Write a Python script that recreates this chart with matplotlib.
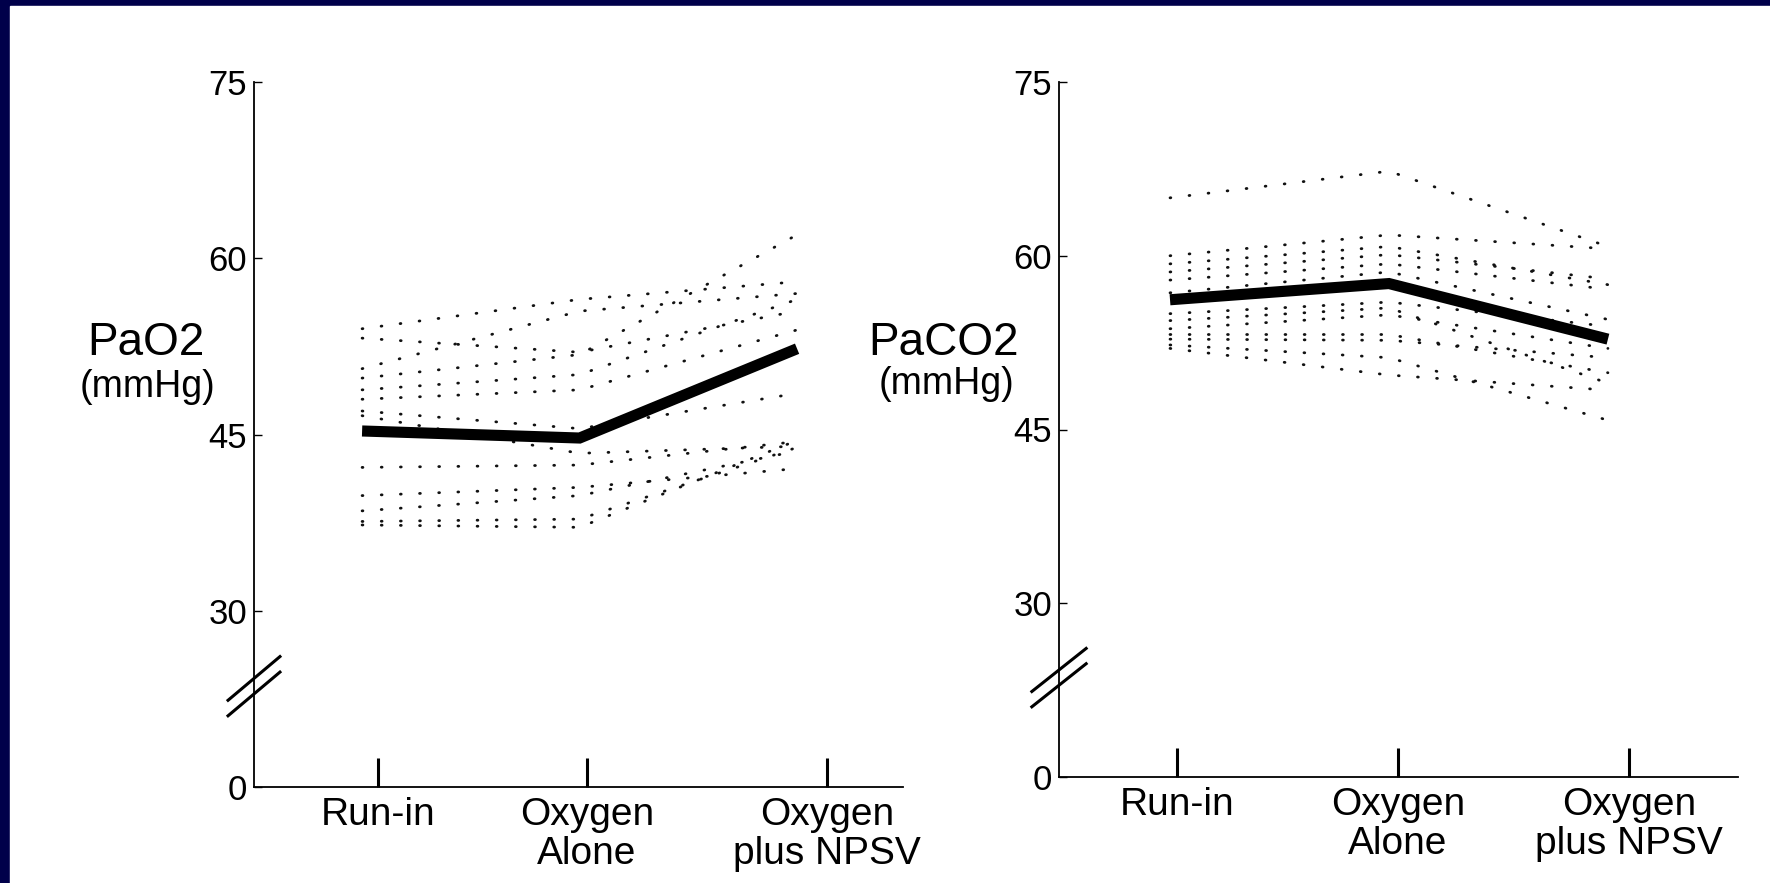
import matplotlib.pyplot as plt
from matplotlib.patches import Rectangle

plt.rcParams['font.family'] = ['Liberation Sans', 'DejaVu Sans']

# phases on the x axis
phases = ['Run-in', 'Oxygen\nAlone', 'Oxygen\nplus NPSV']
# the axis is broken below 30: the "0" tick sits where 15 would be
y_ticks = [15, 30, 45, 60, 75]
y_tick_labels = ['0', '30', '45', '60', '75']

# PaO2 (mmHg), one row per patient: run-in, oxygen alone, oxygen plus NPSV
pao2_patients = [
    [54.0, 56.5, 58.0],
    [53.2, 52.0, 55.5],
    [50.6, 55.5, 57.0],
    [49.8, 51.8, 62.0],
    [48.8, 50.1, 56.5],
    [48.0, 48.8, 53.9],
    [47.0, 45.5, 48.5],
    [46.6, 43.4, 44.0],
    [42.2, 42.4, 44.4],
    [39.8, 40.5, 42.1],
    [38.5, 39.8, 43.6],
    [37.6, 37.8, 43.9],
    [37.3, 37.1, 44.5],
]
pao2_mean = [45.3, 44.7, 52.3]

# PaCO2 (mmHg), one row per patient
paco2_patients = [
    [65.0, 67.3, 60.8],
    [60.0, 61.8, 60.6],
    [59.3, 60.8, 57.5],
    [58.6, 60.1, 58.0],
    [57.9, 59.3, 57.1],
    [56.8, 58.6, 54.5],
    [55.0, 56.0, 53.9],
    [54.4, 55.5, 49.0],
    [53.7, 54.9, 52.0],
    [53.2, 53.2, 49.9],
    [52.8, 52.7, 51.2],
    [52.3, 51.2, 45.8],
    [52.0, 49.7, 48.4],
]
paco2_mean = [56.2, 57.6, 52.8]

W, H = 1770, 883
navy = '#00004a'

fig = plt.figure(figsize=(W / 100, H / 100), dpi=100, facecolor=navy)
fig.patches.append(Rectangle((10 / W, 0), 1 - 10 / W, 1 - 6 / H,
                             transform=fig.transFigure, color='white', zorder=-5))

x_pos = [0, 1, 2]


def panel(rect, xlim, tick_pos, patients, mean, name, name_xy, unit_xy):
    ax = fig.add_axes(rect)
    ax.set_facecolor('none')
    for vals in patients:
        ax.plot(x_pos, vals, color='#111111', lw=2.0,
                linestyle=(0, (0.3, 6.6)), dash_capstyle='round')
    ax.plot(x_pos, mean, color='black', lw=8,
            solid_capstyle='butt', solid_joinstyle='miter', zorder=3)

    ax.set_xlim(*xlim)
    ax.set_ylim(15, 75)
    ax.set_yticks(y_ticks)
    ax.set_yticklabels(y_tick_labels)
    ax.set_xticks(tick_pos)
    ax.set_xticklabels(phases, linespacing=1.1)
    ax.tick_params(axis='y', direction='in', length=6, width=1,
                   pad=5, labelsize=25)
    ax.tick_params(axis='x', direction='in', length=21, width=2.2,
                   pad=7, labelsize=28)
    for s in ['top', 'right']:
        ax.spines[s].set_visible(False)
    for s in ['left', 'bottom']:
        ax.spines[s].set_linewidth(1.3)

    # break marks on the y axis
    for off in (-0.011, 0.011):
        ax.plot([-0.04, 0.04], [0.112 + off, 0.174 + off], color='black',
                lw=2.2, transform=ax.transAxes, clip_on=False)

    fig.text(name_xy[0] / W, 1 - name_xy[1] / H, name,
             ha='center', va='baseline', fontsize=33)
    fig.text(unit_xy[0] / W, 1 - unit_xy[1] / H, '(mmHg)',
             ha='center', va='baseline', fontsize=27)
    return ax


panel([254 / W, 1 - 787 / H, (903 - 254) / W, (787 - 82) / H],
      (-0.497, 2.487), [0.074, 1.034, 2.138],
      pao2_patients, pao2_mean, 'PaO2', (146, 355), (147, 397))

panel([1059 / W, 1 - 777 / H, (1738 - 1059) / W, (777 - 82) / H],
      (-0.507, 2.594), [0.032, 1.04, 2.096],
      paco2_patients, paco2_mean, 'PaCO2', (944, 355), (946, 394))

fig.savefig('out.png', dpi=100, facecolor=fig.get_facecolor())
